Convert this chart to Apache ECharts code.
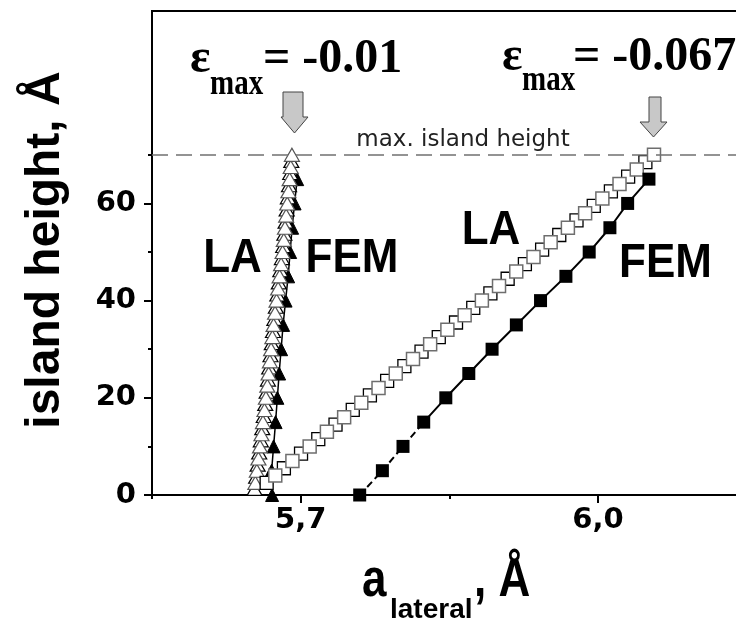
<!DOCTYPE html>
<html>
<head>
<meta charset="utf-8">
<script src="https://cdn.jsdelivr.net/npm/echarts@6/dist/echarts.min.js"></script>
<style>
html,body{margin:0;padding:0;background:#fff;}
#chart{width:736px;height:619px;}
</style>
</head>
<body>
<div id="chart"></div>
<script>
// ---------- data ----------
// FEM, eps_max = -0.067 (filled squares)
const femSqY = [0, 5, 10, 15, 20, 25, 30, 35, 40, 45, 50, 55, 60, 65];
const femSqX = [5.7596, 5.7825, 5.8033, 5.8242, 5.8465, 5.8697, 5.8932, 5.9177, 5.9421, 5.9677, 5.9912, 6.0121, 6.0300, 6.0515];

// FEM, eps_max = -0.01 (filled triangles)
const femTriY = [0, 5, 10, 15, 20, 25, 30, 35, 40, 45, 50, 55, 60, 65];
const femTriX = [5.6712, 5.6707, 5.6727, 5.6747, 5.6765, 5.6783, 5.6803, 5.6823, 5.6848, 5.6874, 5.6894, 5.6914, 5.6939, 5.6965];

// LA, eps_max = -0.067 (open squares)
const laSqY = [2.5, 4, 5.5, 7, 8.5, 10, 11.5, 13, 14.5, 16, 17.5, 19, 20.5, 22, 23.5, 25, 26.5, 28, 29.5, 31, 32.5, 34, 35.5, 37, 38.5, 40, 41.5, 43, 44.5, 46, 47.5, 49, 50.5, 52, 53.5, 55, 56.5, 58, 59.5, 61, 62.5, 64, 65.5, 67, 68.5, 70];
const laSqX = [5.6657, 5.6744, 5.6831, 5.6917, 5.7004, 5.7091, 5.7178, 5.7265, 5.7352, 5.7439, 5.7526, 5.7612, 5.7699, 5.7786, 5.7873, 5.7960, 5.8047, 5.8134, 5.8220, 5.8307, 5.8394, 5.8481, 5.8568, 5.8655, 5.8742, 5.8829, 5.8915, 5.9002, 5.9089, 5.9176, 5.9263, 5.9350, 5.9437, 5.9523, 5.9610, 5.9697, 5.9784, 5.9871, 5.9958, 6.0045, 6.0131, 6.0218, 6.0305, 6.0392, 6.0479, 6.0566];

// LA, eps_max = -0.01 (open triangles)
const laTriY = [1.25, 2.5, 3.75, 5, 6.25, 7.5, 8.75, 10, 11.25, 12.5, 13.75, 15, 16.25, 17.5, 18.75, 20, 21.25, 22.5, 23.75, 25, 26.25, 27.5, 28.75, 30, 31.25, 32.5, 33.75, 35, 36.25, 37.5, 38.75, 40, 41.25, 42.5, 43.75, 45, 46.25, 47.5, 48.75, 50, 51.25, 52.5, 53.75, 55, 56.25, 57.5, 58.75, 60, 61.25, 62.5, 63.75, 65, 66.25, 67.5, 68.75, 70];
const laTriX = [5.6535, 5.6543, 5.6551, 5.6558, 5.6566, 5.6574, 5.6582, 5.6590, 5.6598, 5.6605, 5.6613, 5.6620, 5.6628, 5.6635, 5.6643, 5.6650, 5.6657, 5.6664, 5.6670, 5.6677, 5.6683, 5.6690, 5.6696, 5.6702, 5.6709, 5.6715, 5.6721, 5.6727, 5.6735, 5.6742, 5.6750, 5.6757, 5.6765, 5.6773, 5.6780, 5.6788, 5.6795, 5.6803, 5.6811, 5.6818, 5.6824, 5.6830, 5.6836, 5.6842, 5.6848, 5.6854, 5.6859, 5.6865, 5.6871, 5.6877, 5.6883, 5.6889, 5.6895, 5.6900, 5.6906, 5.6912];

const maxIslandHeight = 70;
const xMajorTicks = [5.7, 6.0];
const xMinorTicks = [5.55, 5.85];
const yMajorTicks = [0, 20, 40, 60];
const yMinorTicks = [10, 30, 50, 70];
const xMin = 5.55, xMax = 6.1444, yMin = 0, yMax = 99.6;

// ---------- helpers ----------
const pairs = (xs, ys) => xs.map((x, i) => [x, ys[i]]);
const femSq = pairs(femSqX, femSqY);
const femTri = pairs(femTriX, femTriY);
const laSq = pairs(laSqX, laSqY);
const laTri = pairs(laTriX, laTriY);
const odd = a => a.filter((_, i) => i % 2 === 1);
const even = a => a.filter((_, i) => i % 2 === 0);

const SANS = 'Liberation Sans, Arial, sans-serif';
const SERIF = 'Liberation Serif, Times New Roman, serif';
const TICKFONT = 'DejaVu Sans, sans-serif';

function arrow(shL, shR, top, shB, hL, hR, tip) {
  const cx = (hL + hR) / 2;
  return {
    type: 'polygon',
    shape: { points: [[shL, top], [shR, top], [shR, shB], [hR, shB], [cx, tip], [hL, shB], [shL, shB]] },
    style: { fill: '#c8c8c8', stroke: '#444', lineWidth: 1 },
    z: 100
  };
}
function txt(text, x, y, font, size, opts) {
  opts = opts || {};
  return {
    type: 'text', x: x, y: y, z: 100,
    rotation: opts.rotation || 0,
    scaleX: opts.scaleX || 1, scaleY: opts.scaleY || 1,
    style: {
      text: text, fill: opts.color || '#000',
      font: (opts.weight || 'bold') + ' ' + size + 'px ' + font,
      align: opts.align || 'center', verticalAlign: 'middle'
    }
  };
}

const chart = echarts.init(document.getElementById('chart'), null, { renderer: 'canvas' });

const baseAxis = (min, max) => ({ type: 'value', min: min, max: max, splitLine: { show: false } });

const option = {
  animation: false,
  backgroundColor: '#fff',
  grid: { left: 152, right: -5, top: 11, bottom: 124, show: true, borderColor: '#000', borderWidth: 2, outerBoundsMode: 'none', containLabel: false },
  xAxis: [
    Object.assign(baseAxis(xMin, xMax), {
      position: 'bottom',
      axisLine: { show: true, onZero: false, lineStyle: { color: '#000', width: 2 } },
      axisTick: { show: true, customValues: xMajorTicks, length: 8, lineStyle: { color: '#000', width: 2 } },
      axisLabel: { customValues: xMajorTicks, formatter: v => Number(v).toFixed(1).replace('.', ','), fontFamily: TICKFONT, fontWeight: 'bold', fontSize: 29, color: '#000', margin: 11 }
    }),
    Object.assign(baseAxis(xMin, xMax), {
      position: 'bottom',
      axisLine: { show: false },
      axisTick: { show: true, customValues: xMinorTicks, length: 4, lineStyle: { color: '#000', width: 2 } },
      axisLabel: { show: false }
    })
  ],
  yAxis: [
    Object.assign(baseAxis(yMin, yMax), {
      position: 'left',
      axisLine: { show: true, onZero: false, lineStyle: { color: '#000', width: 2 } },
      axisTick: { show: true, customValues: yMajorTicks, length: 8, lineStyle: { color: '#000', width: 2 } },
      axisLabel: { customValues: yMajorTicks, formatter: v => String(Math.round(v)), fontFamily: TICKFONT, fontWeight: 'bold', fontSize: 29, color: '#000', margin: 16 }
    }),
    Object.assign(baseAxis(yMin, yMax), {
      position: 'left',
      axisLine: { show: false },
      axisTick: { show: true, customValues: yMinorTicks, length: 4, lineStyle: { color: '#000', width: 2 } },
      axisLabel: { show: false }
    })
  ],
  series: [
    { // FEM -0.01 filled triangles with line
      type: 'line', data: femTri, symbol: 'triangle', symbolSize: [13, 13], showSymbol: true,
      itemStyle: { color: '#000', borderColor: '#000', opacity: 1 }, lineStyle: { color: '#000', width: 1.5 }, z: 2,
      markLine: {
        silent: true, symbol: 'none', label: { show: false },
        lineStyle: { color: '#707070', width: 1.5, type: [16, 8] },
        data: [{ yAxis: maxIslandHeight }]
      }
    },
    { // LA -0.01 open triangles (black)
      type: 'scatter', data: even(laTri), symbol: 'triangle', symbolSize: [15, 13],
      itemStyle: { color: '#fff', borderColor: '#000', borderWidth: 1.2, opacity: 1 }, z: 3
    },
    { // LA -0.01 open triangles (grey)
      type: 'scatter', data: odd(laTri), symbol: 'triangle', symbolSize: [15, 13],
      itemStyle: { color: '#fff', borderColor: '#555', borderWidth: 1.2, opacity: 1 }, z: 3
    },
    { // LA -0.067 open squares (black)
      type: 'scatter', data: even(laSq), symbol: 'rect', symbolSize: 13,
      itemStyle: { color: '#fff', borderColor: '#000', borderWidth: 1.3, opacity: 1 }, z: 3
    },
    { // LA -0.067 open squares (grey)
      type: 'scatter', data: odd(laSq), symbol: 'rect', symbolSize: 13,
      itemStyle: { color: '#fff', borderColor: '#6e6e6e', borderWidth: 1.5, opacity: 1 }, z: 3
    },
    { // FEM -0.067 dashed lower part
      type: 'line', data: femSq.slice(0, 4), showSymbol: false, symbol: 'none',
      lineStyle: { color: '#000', width: 2, type: [7, 4] }, z: 2
    },
    { // FEM -0.067 solid part
      type: 'line', data: femSq.slice(3), showSymbol: false, symbol: 'none',
      lineStyle: { color: '#000', width: 2 }, z: 2
    },
    { // FEM -0.067 filled squares
      type: 'scatter', data: femSq, symbol: 'rect', symbolSize: 13,
      itemStyle: { color: '#000', opacity: 1 }, z: 4
    }
  ],
  graphic: [
    // arrows
    arrow(283, 303, 92, 117, 281, 308, 133),
    arrow(649, 661, 97, 122, 640, 667, 137),
    // epsilon annotations
    txt('ε', 190, 60, SERIF, 48, { align: 'left' }),
    txt('max', 210, 85, SERIF, 29, { align: 'left', scaleY: 1.2 }),
    txt('= -0.01', 263, 60, SERIF, 48, { align: 'left' }),
    txt('ε', 502, 57.5, SERIF, 48, { align: 'left' }),
    txt('max', 522, 81, SERIF, 29, { align: 'left', scaleY: 1.2 }),
    txt('= -0.067', 573, 57.5, SERIF, 48, { align: 'left' }),
    // max. island height
    txt('max. island height', 463, 140, 'DejaVu Sans, sans-serif', 23, { weight: 'normal', color: '#222' }),
    // LA / FEM labels
    txt('LA', 232.5, 258.5, SANS, 44, { scaleY: 1.11 }),
    txt('FEM', 352, 258.5, SANS, 44, { scaleY: 1.11 }),
    txt('LA', 491, 231, SANS, 44, { scaleY: 1.11 }),
    txt('FEM', 665.5, 264, SANS, 44, { scaleY: 1.11 }),
    // axis titles
    txt('island height, Å', 46, 250, SANS, 48, { rotation: Math.PI / 2 }),
    txt('a', 362, 581.7, SANS, 44, { align: 'left', scaleY: 1.2 }),
    txt('lateral', 390, 610.3, SANS, 28, { align: 'left' }),
    txt(', Å', 474, 581.7, SANS, 44, { align: 'left', scaleY: 1.2 })
  ]
};
chart.setOption(option);
</script>
</body>
</html>
